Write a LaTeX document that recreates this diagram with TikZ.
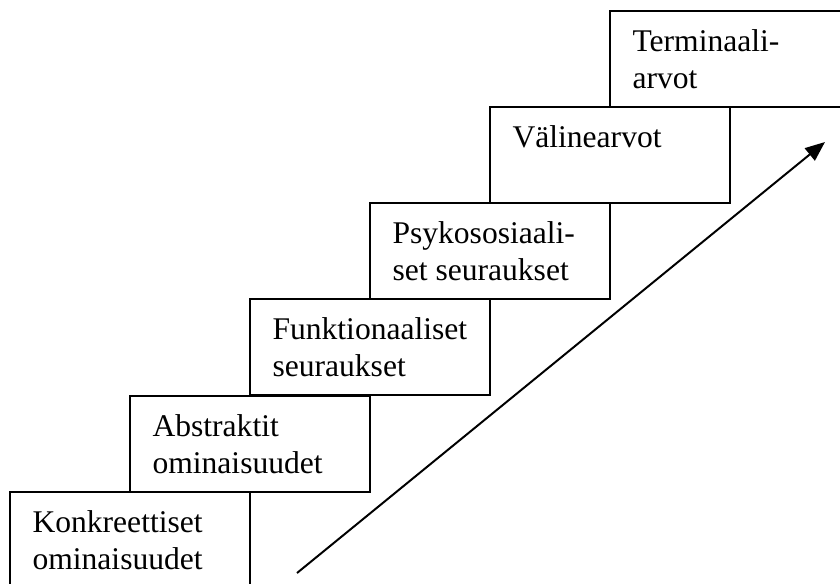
\documentclass[tikz,border=0pt]{standalone}
\usepackage{fontspec}
\setmainfont{Liberation Serif}
\usetikzlibrary{arrows.meta,positioning,calc}
\tikzset{
  stepbox/.style={draw=black,fill=white,line width=0.75pt,rectangle,
                  inner sep=0pt,outer sep=0pt,anchor=north west,
                  minimum width=91.2pt,minimum height=36.5pt},
  steptext/.style={anchor=north west,inner sep=0pt,align=left,
                   font=\fontsize{12}{14}\selectfont},
  risearr/.style={-{Triangle[length=7.5pt,width=6pt]},line width=0.75pt,
                  draw=black}
}
\begin{document}
\begin{tikzpicture}[x=0.38pt,y=-0.38pt]
    \useasboundingbox (0,0) rectangle (840,583);
    \clip (0,0) rectangle (840,583);

    \node[stepbox] (konk) at (10,492) {};
    \node[stepbox] (abst) at (130,396) {};
    \node[stepbox] (funk) at (250,299) {};
    \node[stepbox] (psyk) at (370,203) {};
    \node[stepbox] (vali) at (490,107) {};
    \node[stepbox] (term) at (610,11) {};

    \node[steptext] (konktxt) at ($(konk.north west)+(22,14)$)
      {\strut Konkreettiset\\ominaisuudet};
    \node[steptext] (abstxt) at ($(abst.north west)+(22,14)$)
      {\strut Abstraktit\\ominaisuudet};
    \node[steptext] (funktxt) at ($(funk.north west)+(22,14)$)
      {\strut Funktionaaliset\\seuraukset};
    \node[steptext] (psyktxt) at ($(psyk.north west)+(22,14)$)
      {\strut Psykososiaali-\\set seuraukset};
    \node[steptext] (valitxt) at ($(vali.north west)+(22,14)$)
      {\strut Välinearvot};
    \node[steptext] (termtxt) at ($(term.north west)+(22,14)$)
      {\strut Terminaali-\\arvot};

    \coordinate (risefoot) at (297,573);
    \coordinate (risetop) at (825,142);
    \draw[risearr] (risefoot) -- (risetop);
  \end{tikzpicture}
\end{document}
